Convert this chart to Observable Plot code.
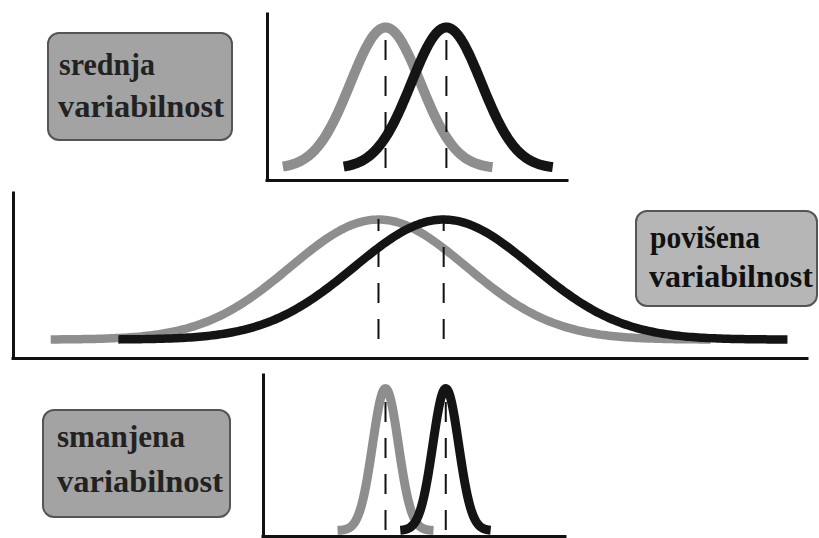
<!DOCTYPE html>
<html>
<head>
<meta charset="utf-8">
<script src="https://cdn.jsdelivr.net/npm/d3@7"></script>
<script src="https://cdn.jsdelivr.net/npm/@observablehq/plot@0.6"></script>
<style>
  body { margin: 0; background: #fff; }
  #chart { position: relative; width: 819px; height: 538px; overflow: hidden; background: #fff; }
  #chart > svg { position: absolute; left: 0; top: 0; background: transparent; }
</style>
</head>
<body>
<div id="chart"></div>
<script>
// Three panels: medium, increased and reduced variability of two normal distributions
const panelLabels = [["srednja", "variabilnost"], ["povišena", "variabilnost"], ["smanjena", "variabilnost"]];

// Gray (first) distribution per panel
const grayMean = [0, 0, 0];
const graySd = [0.57, 1.43, 0.21];
const grayFrom = [-1.67, -5.33, -0.78];
const grayTo = [1.74, 5.4, 0.78];

// Black (second) distribution per panel
const blackMean = [0.99, 1.06, 0.98];
const blackSd = [0.57, 1.45, 0.21];
const blackFrom = [-0.68, -4.23, 0.24];
const blackTo = [2.72, 6.65, 1.71];

// Axis extents per panel (x in units of the variable, y as relative density)
const xMin = [-1.92, -5.935, -1.984];
const xMax = [2.96, 6.976, 2.927];
const yMin = [-0.085, -0.158, -0.042];
const yMax = [1.092, 1.217, 1.092];

const W = 819, H = 538;
// plot frames: [left, right, top, bottom] in page pixels
const frames = [[267, 567, 14, 180], [13, 807, 193, 358], [263, 565, 375, 536]];
const curveWidth = [10, 8.5, 9];

function density(mean, sd, from, to) {
  const n = 240;
  return d3.range(n + 1).map(i => {
    const x = from + (to - from) * i / n;
    return {x, y: Math.exp(-0.5 * ((x - mean) / sd) ** 2)};
  });
}

const chart = document.getElementById("chart");

frames.forEach(([l, r, t, b], i) => {
  const gray = density(grayMean[i], graySd[i], grayFrom[i], grayTo[i]);
  const black = density(blackMean[i], blackSd[i], blackFrom[i], blackTo[i]);
  const plot = Plot.plot({
    width: W,
    height: H,
    marginLeft: l,
    marginRight: W - r,
    marginTop: t,
    marginBottom: H - b,
    style: {background: "transparent", overflow: "visible"},
    x: {domain: [xMin[i], xMax[i]], axis: null},
    y: {domain: [yMin[i], yMax[i]], axis: null},
    marks: [
      Plot.line(gray, {x: "x", y: "y", stroke: "#8e8e8e", strokeWidth: curveWidth[i], strokeLinecap: "butt", curve: "linear"}),
      Plot.line(black, {x: "x", y: "y", stroke: "#141414", strokeWidth: curveWidth[i], strokeLinecap: "butt", curve: "linear"}),
      Plot.ruleX([grayMean[i], blackMean[i]], {y1: 0, y2: 1, stroke: "#111", strokeWidth: 2, strokeDasharray: "20,16"}),
      Plot.ruleX([xMin[i]], {y1: yMin[i], y2: yMax[i], stroke: "#111", strokeWidth: 3, strokeLinecap: "square"}),
      Plot.ruleY([yMin[i]], {x1: xMin[i], x2: xMax[i], stroke: "#111", strokeWidth: 3, strokeLinecap: "square"})
    ]
  });
  chart.appendChild(plot);
});

// Label boxes
const boxes = [
  {x: 48, y: 33, w: 184, h: 107, fill: "#a3a3a3", color: "#222", size: 31,
   lines: [{x: 59, y: 75, len: 96}, {x: 58, y: 117, len: 166}]},
  {x: 636, y: 211, w: 181, h: 95, fill: "#b6b6b6", color: "#111", size: 32,
   lines: [{x: 650, y: 248, len: 110}, {x: 649, y: 287, len: 164}]},
  {x: 43, y: 410, w: 187, h: 107, fill: "#a3a3a3", color: "#222", size: 31,
   lines: [{x: 57, y: 447, len: 128}, {x: 57, y: 492, len: 166}]}
];

const svg = d3.select(chart).append("svg").attr("width", W).attr("height", H);
boxes.forEach((bx, i) => {
  const g = svg.append("g");
  g.append("rect")
    .attr("x", bx.x).attr("y", bx.y).attr("width", bx.w).attr("height", bx.h)
    .attr("rx", 11).attr("ry", 11)
    .attr("fill", bx.fill).attr("stroke", "#555").attr("stroke-width", 2);
  bx.lines.forEach((ln, j) => {
    g.append("text")
      .attr("x", ln.x).attr("y", ln.y)
      .attr("textLength", ln.len).attr("lengthAdjust", "spacingAndGlyphs")
      .attr("font-family", "'Liberation Serif', 'DejaVu Serif', serif")
      .attr("font-weight", "bold")
      .attr("font-size", bx.size)
      .attr("fill", bx.color)
      .text(panelLabels[i][j]);
  });
});
</script>
</body>
</html>
